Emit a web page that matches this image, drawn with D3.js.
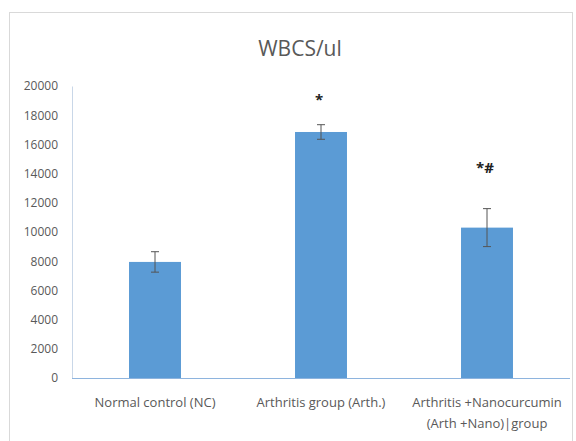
<!DOCTYPE html>
<html>
<head>
<meta charset="utf-8">
<script src="https://cdn.jsdelivr.net/npm/d3@7"></script>
<style>
  html, body { margin: 0; padding: 0; background: #fff; }
  svg { display: block; }
  text { font-family: "Open Sans", Lato, sans-serif; }
</style>
</head>
<body>
<svg id="chart" width="576" height="441"></svg>
<script>
// WBC counts per group (cells/µl) with error bars
const categories = [
  ["Normal control (NC)"],
  ["Arthritis group (Arth.)"],
  ["Arthritis +Nanocurcumin", "(Arth +Nano)|group"]
];
const values = [7950, 16850, 10300];
const errors = [700, 500, 1300];
const markers = ["", "*", "*#"];
const yTicks = [0, 2000, 4000, 6000, 8000, 10000, 12000, 14000, 16000, 18000, 20000];
const title = "WBCS/ul";

const svg = d3.select("#chart");
const W = 576, H = 441;
const margin = { left: 72, right: 6, top: 86, bottom: 63 };

// chart frame
svg.append("rect")
  .attr("x", 9.5).attr("y", 12.5)
  .attr("width", 563).attr("height", 440)
  .attr("fill", "#fff")
  .attr("stroke", "#d9d9d9").attr("stroke-width", 1);

const x = d3.scaleBand()
  .domain(d3.range(categories.length))
  .range([margin.left, W - margin.right])
  .paddingInner(0.687)
  .paddingOuter(0.3435);

const y = d3.scaleLinear()
  .domain([0, 20000])
  .range([H - margin.bottom, margin.top]);

// title
svg.append("text")
  .attr("x", 300).attr("y", 56)
  .attr("text-anchor", "middle")
  .attr("font-size", 21)
  .attr("fill", "#595959")
  .text(title);

// y axis
const yAxis = d3.axisLeft(y).tickValues(yTicks).tickSize(0).tickPadding(14)
  .tickFormat(d3.format("d"));
const gy = svg.append("g")
  .attr("transform", `translate(${margin.left},0)`)
  .call(yAxis);
gy.select(".domain").attr("stroke", "#c9d7e8");
gy.selectAll("text")
  .attr("font-size", 12)
  .attr("fill", "#595959")
  .style("font-family", '"Open Sans", sans-serif');

// bars
svg.append("g").selectAll("rect")
  .data(values)
  .join("rect")
  .attr("x", (d, i) => x(i))
  .attr("width", x.bandwidth())
  .attr("y", d => y(d))
  .attr("height", d => y(0) - y(d))
  .attr("fill", "#5b9bd5");

// error bars
const eb = svg.append("g").attr("stroke", "#555").attr("stroke-width", 1);
values.forEach((v, i) => {
  const cx = x(i) + x.bandwidth() / 2;
  eb.append("line")
    .attr("x1", cx).attr("x2", cx)
    .attr("y1", y(v - errors[i])).attr("y2", y(v + errors[i]));
  eb.append("line")
    .attr("x1", cx - 4).attr("x2", cx + 4)
    .attr("y1", y(v + errors[i])).attr("y2", y(v + errors[i]));
  eb.append("line")
    .attr("x1", cx - 4).attr("x2", cx + 4)
    .attr("y1", y(v - errors[i])).attr("y2", y(v - errors[i]));
});

// x axis baseline
svg.append("line")
  .attr("x1", margin.left).attr("x2", W - margin.right)
  .attr("y1", y(0) + 0.5).attr("y2", y(0) + 0.5)
  .attr("stroke", "#8eb4de").attr("stroke-width", 1);

// significance markers
svg.append("g").selectAll("text")
  .data(markers)
  .join("text")
  .attr("x", (d, i) => x(i) + x.bandwidth() / 2 - 2)
  .attr("y", (d, i) => y(values[i] + errors[i]) - (i === 2 ? 36 : 20))
  .attr("text-anchor", "middle")
  .attr("font-size", 15)
  .attr("font-weight", "bold")
  .attr("fill", "#222")
  .text(d => d);

// category labels
const xl = svg.append("g");
categories.forEach((lines, i) => {
  const cx = x(i) + x.bandwidth() / 2;
  const t = xl.append("text")
    .attr("x", cx)
    .attr("y", 407)
    .attr("text-anchor", "middle")
    .attr("font-size", 13)
    .attr("fill", "#595959");
  lines.forEach((ln, j) => {
    t.append("tspan")
      .attr("x", cx)
      .attr("dy", j === 0 ? 0 : 21)
      .text(ln);
  });
});
</script>
</body>
</html>
